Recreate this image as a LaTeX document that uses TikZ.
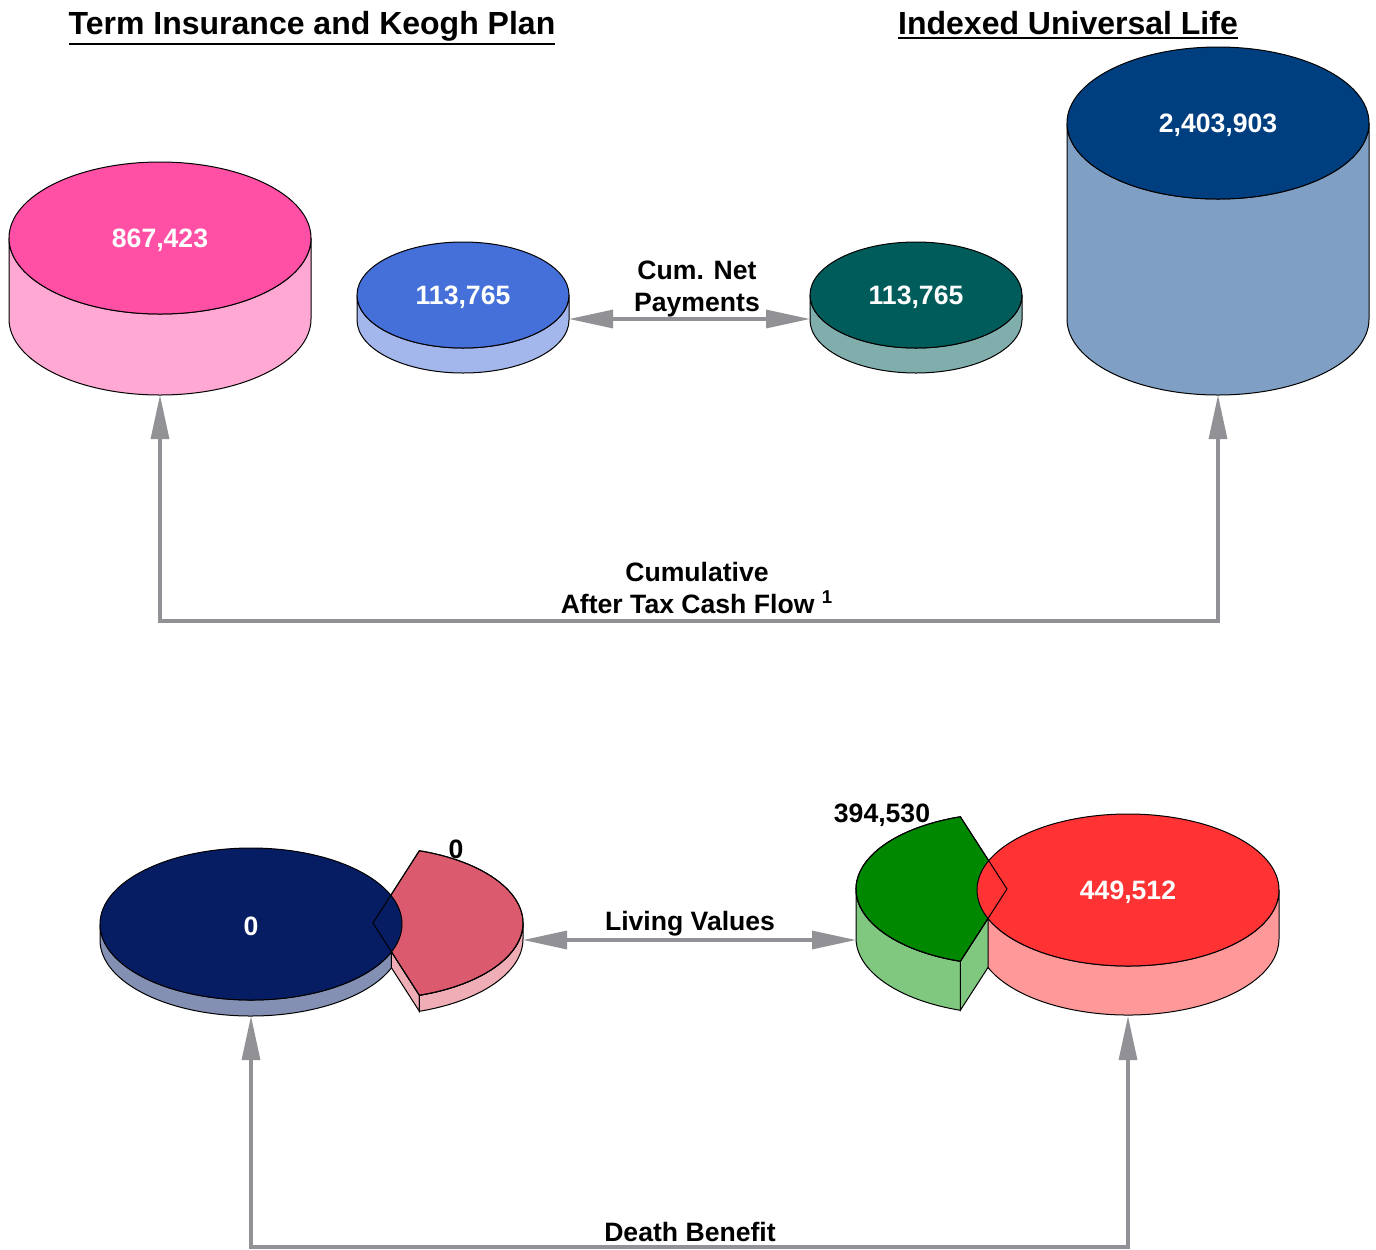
\documentclass[tikz,border=0pt]{standalone}
\usepackage{fontspec}
\setmainfont{Liberation Sans}
\usetikzlibrary{arrows.meta, positioning}

\definecolor{termtop}{HTML}{FF50A5}
\definecolor{termside}{HTML}{FFA8D3}
\definecolor{paytop}{HTML}{4570D9}
\definecolor{payside}{HTML}{A3B7EC}
\definecolor{iulpaytop}{HTML}{005C5A}
\definecolor{iulpayside}{HTML}{7FAEAC}
\definecolor{iultop}{HTML}{003F7F}
\definecolor{iulside}{HTML}{7FA0C4}
\definecolor{navytop}{HTML}{071D63}
\definecolor{navyside}{HTML}{8390B4}
\definecolor{rosetop}{HTML}{DB5A6E}
\definecolor{roseside}{HTML}{EFADB6}
\definecolor{greentop}{HTML}{008800}
\definecolor{greenside}{HTML}{80C780}
\definecolor{redtop}{HTML}{FF3333}
\definecolor{redside}{HTML}{FF9999}
\definecolor{flowgray}{HTML}{929296}

\newcommand{\headul}[1]{\vtop{\hbox{#1}\kern 1.2pt\hrule height 1.1pt}}

\tikzset{
  val/.style={text=white, yshift=-1pt, font=\bfseries\fontsize{13.3}{16}\selectfont},
  lbl/.style={text=black, align=center, yshift=-1pt, font=\bfseries\fontsize{13.3}{16}\selectfont},
  head/.style={anchor=base, font=\bfseries\fontsize{16}{19}\selectfont},
  rim/.style={draw=black, line width=0.5pt},
  flow/.style={draw=flowgray, line width=1.6pt},
  twoway/.style={{Triangle[length=22pt, width=9pt]}-{Triangle[length=22pt, width=9pt]}}
}

\begin{document}
\begin{tikzpicture}[x=0.5pt, y=-0.5pt]
\useasboundingbox (0,0) rectangle (1376,1249);

\node[head] (termhead) at (312,34) {\headul{Term Insurance and Keogh Plan}};
\node[head] (iulhead) at (1068,34) {\headul{Indexed Universal Life}};

%Cash flow cylinders:
\filldraw[rim, fill=termside] (311,238) arc[start angle=0, end angle=180, x radius=151, y radius=76] -- ++(0,81) arc[start angle=180, end angle=0, x radius=151, y radius=76] -- cycle;
\filldraw[rim, fill=termtop] (160,238) ellipse[x radius=151, y radius=76];
\filldraw[rim, fill=iulside] (1369,123) arc[start angle=0, end angle=180, x radius=151, y radius=76] -- ++(0,196) arc[start angle=180, end angle=0, x radius=151, y radius=76] -- cycle;
\filldraw[rim, fill=iultop] (1218,123) ellipse[x radius=151, y radius=76];

%Payment cylinders:
\filldraw[rim, fill=payside] (569,295) arc[start angle=0, end angle=180, x radius=106, y radius=53] -- ++(0,25) arc[start angle=180, end angle=0, x radius=106, y radius=53] -- cycle;
\filldraw[rim, fill=paytop] (463,295) ellipse[x radius=106, y radius=53];
\filldraw[rim, fill=iulpayside] (1022,295) arc[start angle=0, end angle=180, x radius=106, y radius=53] -- ++(0,25) arc[start angle=180, end angle=0, x radius=106, y radius=53] -- cycle;
\filldraw[rim, fill=iulpaytop] (916,295) ellipse[x radius=106, y radius=53];

%Living values and death benefit, left:
\filldraw[rim, fill=roseside] (373,923) -- ++(72:150 and 76) -- ++(0,16) -- (373,939) -- cycle;
\filldraw[rim, fill=roseside] (373,923) ++(0:150 and 76) arc[start angle=0, end angle=72, x radius=150, y radius=76] -- ++(0,16) arc[start angle=72, end angle=0, x radius=150, y radius=76] -- cycle;
\filldraw[rim, fill=rosetop] (373,923) -- ++(-72:150 and 76) arc[start angle=-72, end angle=72, x radius=150, y radius=76] -- cycle;
\filldraw[rim, fill=navyside] (251,924) ++(21.5:151 and 76) arc[start angle=21.5, end angle=180, x radius=151, y radius=76] -- ++(0,16) arc[start angle=180, end angle=21.5, x radius=151, y radius=76] -- cycle;
\filldraw[rim, fill=navytop] (251,924) ellipse[x radius=151, y radius=76];
\draw[rim] (373,923) -- ++(-72:150 and 76) arc[start angle=-72, end angle=72, x radius=150, y radius=76] -- cycle;

%Living values and death benefit, right:
\filldraw[rim, fill=greenside] (1007,889) -- ++(108:151 and 76) -- ++(0,49) -- (1007,938) -- cycle;
\filldraw[rim, fill=greenside] (1007,889) ++(108:151 and 76) arc[start angle=108, end angle=180, x radius=151, y radius=76] -- ++(0,49) arc[start angle=180, end angle=108, x radius=151, y radius=76] -- cycle;
\filldraw[rim, fill=greentop] (1007,889) -- ++(108:151 and 76) arc[start angle=108, end angle=252, x radius=151, y radius=76] -- cycle;
\filldraw[rim, fill=redside] (1279,890) arc[start angle=0, end angle=158, x radius=151, y radius=76] -- ++(0,49) arc[start angle=158, end angle=0, x radius=151, y radius=76] -- cycle;
\filldraw[rim, fill=redtop] (1128,890) ellipse[x radius=151, y radius=76];
\draw[rim] (1007,889) -- ++(108:151 and 76) arc[start angle=108, end angle=252, x radius=151, y radius=76] -- cycle;

\node[val] (termval) at (160,238) {867,423};
\node[val] (iulval) at (1218,123) {2,403,903};
\node[val] (termpay) at (463,295) {113,765};
\node[val] (iulpay) at (916,295) {113,765};
\node[val] (termdb) at (251,924) {0};
\node[val] (iuldb) at (1128,890) {449,512};
\node[lbl] (termlv) at (456,847) {0};
\node[lbl] (iullv) at (882,813) {394,530};

\node[lbl] (paylbl) at (697,287) {Cum. Net\\Payments};
\node[lbl] (cflbl) at (697,586) {Cumulative\\After Tax Cash Flow \textsuperscript{1}};
\node[lbl] (lvlbl) at (690,922) {Living Values};
\node[lbl] (dblbl) at (690,1230) {Death Benefit};

\coordinate (termbot) at (160,395);
\coordinate (iulbot) at (1218,395);
\coordinate (cfline) at (697,621);
\coordinate (termpayedge) at (569,319);
\coordinate (iulpayedge) at (810,319);
\coordinate (roseedge) at (523,940);
\coordinate (greenedge) at (856,940);
\coordinate (navybot) at (251,1016);
\coordinate (redbot) at (1128,1016);
\coordinate (dbline) at (690,1247);

%Connectors:
\draw[flow, twoway] (termpayedge) -- (iulpayedge);
\draw[flow, twoway] (roseedge) -- (greenedge);
\draw[flow, twoway] (termbot) |- (cfline) -| (iulbot);
\draw[flow, twoway] (navybot) |- (dbline) -| (redbot);

\end{tikzpicture}
\end{document}
